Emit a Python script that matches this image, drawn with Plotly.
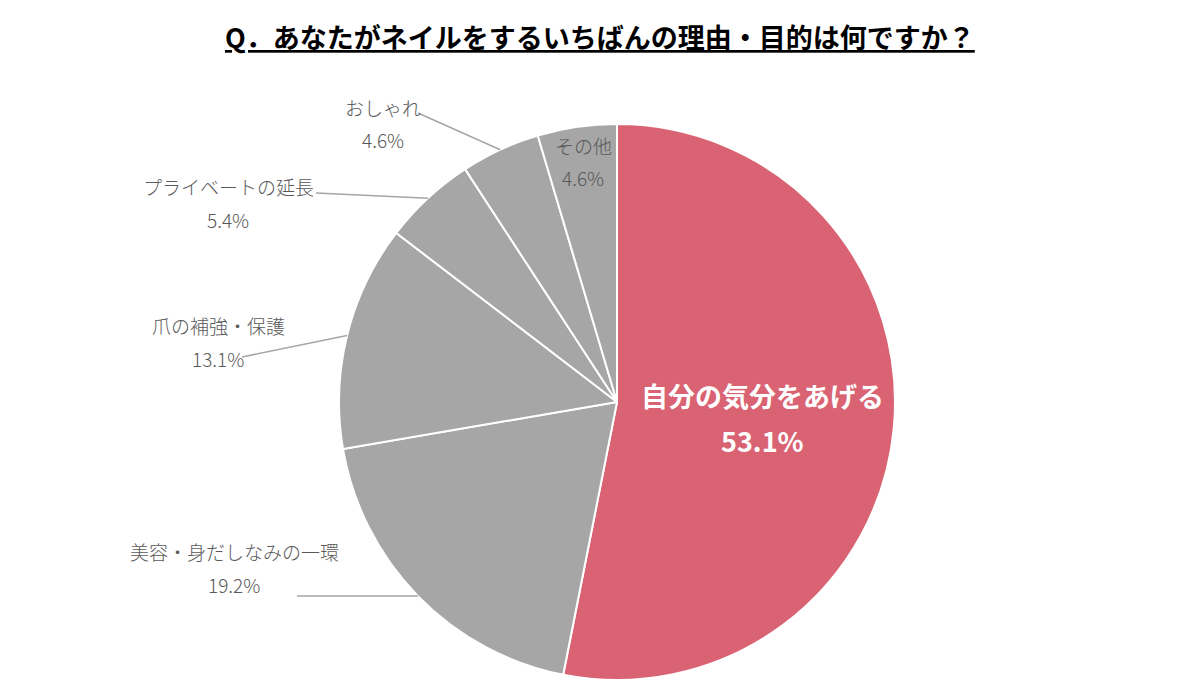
import math
import plotly.graph_objects as go

categories = ["自分の気分をあげる", "美容・身だしなみの一環", "爪の補強・保護", "プライベートの延長", "おしゃれ", "その他"]
values = [53.1, 19.2, 13.1, 5.4, 4.6, 4.6]
colors = ["#D96373", "#A6A6A6", "#A6A6A6", "#A6A6A6", "#A6A6A6", "#A6A6A6"]
title_text = "Q．あなたがネイルをするいちばんの理由・目的は何ですか？"

OFF = 8  # page body margin
W, H = 1200 - 2 * OFF, 700 - 2 * OFF
CX, CY, R = 617, 402, 278

def px(x):
    return (x - OFF) / W

def py(y):
    return 1 - (y - OFF) / H

fig = go.Figure()
fig.add_trace(go.Pie(
    labels=categories,
    values=values,
    sort=False,
    direction="clockwise",
    rotation=0,
    marker=dict(colors=colors, line=dict(color="white", width=2)),
    textinfo="none",
    hoverinfo="label+percent",
    domain=dict(x=[px(CX - R), px(CX + R)], y=[py(CY + R), py(CY - R)]),
    showlegend=False,
))

label_layout = [
    ("inside_big", 762, 395),
    ("leader", 234, 551, 297, 596),
    ("leader", 218, 325, 242, 357),
    ("leader", 228, 186, 316, 193),
    ("leader", 383, 107, 418, 113),
    ("inside", 583, 145),
]

total = sum(values)
cum = 0.0
annotations = []
shapes = []
grey = "#595959"
font_fam = "Noto Sans CJK JP"

def ann(x, y, text, size, color, **extra):
    return dict(x=px(x), y=py(y), xref="paper", yref="paper", text=text, showarrow=False,
                xanchor="center", yanchor="middle",
                font=dict(family=font_fam, size=size, color=color, **extra))

for i, (cat, v) in enumerate(zip(categories, values)):
    mid = (cum + v / 2) / total
    cum += v
    ang = 2 * math.pi * mid
    ex = CX + R * math.sin(ang)
    ey = CY - R * math.cos(ang)
    spec = label_layout[i]
    pct = f"{v:.1f}%"
    if spec[0] == "inside_big":
        annotations.append(ann(spec[1], spec[2], f"<b>{cat}</b>", 27, "white"))
        annotations.append(ann(spec[1], spec[2] + 45, f"<b>{pct}</b>", 27, "white"))
    else:
        annotations.append(ann(spec[1], spec[2], cat, 19, grey, weight=300))
        annotations.append(ann(spec[1], spec[2] + 33, pct, 19, grey, weight=300))
        if spec[0] == "leader":
            shapes.append(dict(type="line", xref="paper", yref="paper",
                               x0=px(ex), y0=py(ey), x1=px(spec[3]), y1=py(spec[4]),
                               line=dict(color="#A6A6A6", width=1.5)))

annotations.append(ann(600, 37, f"<b>{title_text}</b>", 27, "black", lineposition="under"))

fig.update_layout(
    width=W, height=H,
    margin=dict(l=0, r=0, t=0, b=0),
    paper_bgcolor="white",
    plot_bgcolor="white",
    annotations=annotations,
    shapes=shapes,
)

fig.write_html("out.html")
